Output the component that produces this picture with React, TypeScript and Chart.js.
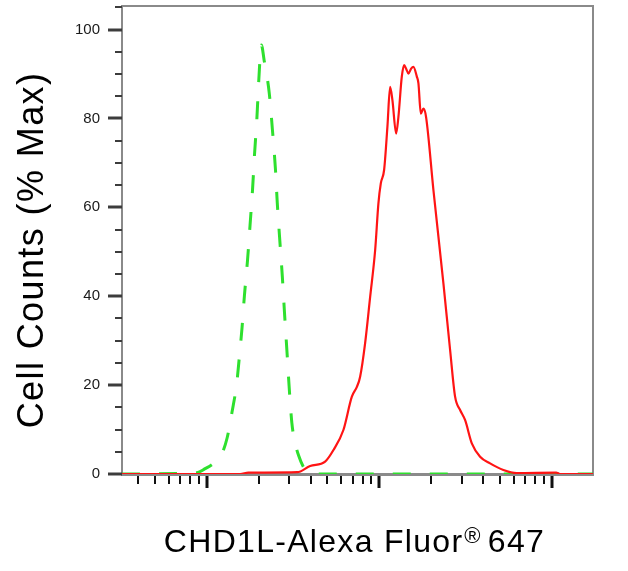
import React, { useEffect, useRef } from 'react';
import { Chart, registerables } from 'chart.js';

Chart.register(...registerables);

const FONT = '"Liberation Sans", Arial, Helvetica, sans-serif';

// Axis texts
const xTitleMain = 'CHD1L-Alexa Fluor';
const xTitleMark = '®';
const xTitleTail = '647';
const yTitle = 'Cell Counts (% Max)';

// Axis ranges and ticks
const xMin = 32.2;
const xMax = 17340;
const yMin = 0;
const yMax = 105.3;
const xMajorTicks = [100, 1000, 10000];
const xMinorTicks = [40, 50, 60, 70, 80, 90, 200, 300, 400, 500, 600, 700, 800, 900, 2000, 3000, 4000, 5000, 6000, 7000, 8000, 9000];
const yLabelTicks = [0, 20, 40, 60, 80, 100];
const yMinorTicks = [5, 10, 15, 25, 30, 35, 45, 50, 55, 65, 70, 75, 85, 90, 95, 105];

// Stained sample (red, solid)
const stainedX = [32.2, 156, 174, 334, 397, 485, 542, 619, 693, 741, 774, 827, 885, 946, 988, 1020, 1066, 1114, 1155, 1191, 1252, 1290, 1350, 1393, 1430, 1475, 1529, 1577, 1650, 1686, 1740, 1802, 1867, 2059, 2353, 2573, 2750, 2940, 3145, 3438, 3840, 4388, 5241, 6268, 10593, 11169, 17340];
const stainedY = [0, 0, 0.3, 0.4, 1.8, 2.8, 5.4, 9.9, 17.4, 19.6, 21.9, 29.4, 39.9, 50.4, 60.9, 65.4, 68.4, 78.1, 87.1, 84.1, 76.6, 80.3, 89.4, 92, 91.2, 90.1, 91.2, 91.6, 89.4, 87.9, 81.1, 82.2, 80.3, 63.9, 42.9, 27.9, 17.4, 14.4, 12.1, 6.9, 3.9, 2.4, 0.9, 0.2, 0.3, 0, 0];

// Isotype control (green, dashed)
const controlX = [32.2, 87.5, 97.7, 110, 122, 131, 140, 149, 154, 160, 165, 172, 178, 184, 189, 195, 200, 207, 215, 230, 240, 250, 256, 264, 274, 282, 291, 300, 311, 325, 340, 363, 397, 17340];
const controlY = [0, 0.3, 1.2, 2.5, 4.5, 8.1, 14, 20.4, 26, 33, 40, 48, 56, 64, 72, 80, 88.6, 96.5, 93, 85.7, 77.4, 68.4, 61, 53.3, 44.3, 36.2, 27.9, 19.6, 11.5, 7, 4.2, 1.6, 0, 0];

const toPoints = (xs: number[], ys: number[]) => xs.map((x, i) => ({ x, y: ys[i] }));

const decorPlugin = {
  id: 'decor',
  beforeDatasetsDraw(chart: any) {
    const { ctx, chartArea: a } = chart;
    ctx.save();
    ctx.strokeStyle = '#8a8a8a';
    ctx.lineWidth = 2;
    ctx.strokeRect(a.left, a.top, a.right - a.left, a.bottom - a.top);
    ctx.lineWidth = 3;
    ctx.beginPath();
    ctx.moveTo(a.left - 1, a.bottom + 0.5);
    ctx.lineTo(a.right + 1, a.bottom + 0.5);
    ctx.stroke();
    ctx.restore();
  },
  afterDraw(chart: any) {
    const { ctx, chartArea: a } = chart;
    const xs = chart.scales.x;
    const ys = chart.scales.y;
    ctx.save();
    // x ticks
    ctx.strokeStyle = '#111';
    ctx.lineWidth = 2;
    xMinorTicks.forEach((v) => {
      const px = Math.round(xs.getPixelForValue(v));
      ctx.beginPath();
      ctx.moveTo(px, a.bottom + 2);
      ctx.lineTo(px, a.bottom + 10);
      ctx.stroke();
    });
    ctx.lineWidth = 3;
    xMajorTicks.forEach((v) => {
      const px = Math.round(xs.getPixelForValue(v));
      ctx.beginPath();
      ctx.moveTo(px, a.bottom + 2);
      ctx.lineTo(px, a.bottom + 14);
      ctx.stroke();
    });
    // y ticks
    ctx.strokeStyle = '#3c3c3c';
    ctx.lineWidth = 2;
    yMinorTicks.forEach((v) => {
      const py = Math.round(ys.getPixelForValue(v));
      ctx.beginPath();
      ctx.moveTo(a.left - 7, py);
      ctx.lineTo(a.left, py);
      ctx.stroke();
    });
    ctx.lineWidth = 3;
    yLabelTicks.forEach((v) => {
      const py = Math.round(ys.getPixelForValue(v));
      ctx.beginPath();
      ctx.moveTo(a.left - 14, py);
      ctx.lineTo(a.left, py);
      ctx.stroke();
    });

    // x title
    ctx.fillStyle = '#000';
    ctx.textBaseline = 'alphabetic';
    ctx.textAlign = 'left';
    ctx.letterSpacing = '1.3px';
    ctx.font = `32px ${FONT}`;
    const w1 = ctx.measureText(xTitleMain).width;
    const w3 = ctx.measureText(xTitleTail).width;
    ctx.font = `22px ${FONT}`;
    const w2 = ctx.measureText(xTitleMark).width;
    const gap = 7;
    const total = w1 + w2 + gap + w3;
    const cx = (a.left + a.right) / 2 - 3;
    const x0 = cx - total / 2;
    const base = 552;
    ctx.font = `32px ${FONT}`;
    ctx.fillText(xTitleMain, x0, base);
    ctx.font = `22px ${FONT}`;
    ctx.fillText(xTitleMark, x0 + w1 + 1, base - 9);
    ctx.font = `32px ${FONT}`;
    ctx.fillText(xTitleTail, x0 + w1 + w2 + gap, base);

    // y title
    ctx.save();
    ctx.letterSpacing = '1.4px';
    ctx.font = `36px ${FONT}`;
    ctx.translate(43, (a.top + a.bottom) / 2 + 10);
    ctx.rotate(-Math.PI / 2);
    ctx.textAlign = 'center';
    ctx.fillText(yTitle, 0, 0);
    ctx.restore();

    ctx.restore();
  },
};

export default function App() {
  const ref = useRef<HTMLCanvasElement>(null);

  useEffect(() => {
    if (!ref.current) return;
    const chart = new Chart(ref.current, {
      type: 'line',
      data: {
        datasets: [
          {
            label: 'CHD1L',
            data: toPoints(stainedX, stainedY),
            borderColor: '#ff1414',
            borderWidth: 2.2,
            pointRadius: 0,
            fill: false,
            cubicInterpolationMode: 'monotone',
          },
          {
            label: 'Isotype',
            data: toPoints(controlX, controlY),
            borderColor: '#2ee02e',
            borderWidth: 3,
            borderDash: [18, 19],
            pointRadius: 0,
            fill: false,
            cubicInterpolationMode: 'monotone',
          },
        ],
      },
      options: {
        animation: false,
        responsive: false,
        devicePixelRatio: 1,
        layout: { padding: { top: 6, right: 35, bottom: 0, left: 0 } },
        plugins: { legend: { display: false }, tooltip: { enabled: false } },
        scales: {
          x: {
            type: 'logarithmic',
            min: xMin,
            max: xMax,
            grid: { display: false },
            border: { display: false },
            ticks: { display: false },
            afterFit: (s: any) => {
              s.height = 97;
            },
          },
          y: {
            type: 'linear',
            min: yMin,
            max: yMax,
            grid: { display: false, drawTicks: false },
            border: { display: false },
            afterBuildTicks: (s: any) => {
              s.ticks = yLabelTicks.map((v) => ({ value: v }));
            },
            ticks: {
              padding: 22,
              color: '#1a1a1a',
              font: { family: FONT, size: 15 },
              callback: (v: any) => String(v),
            },
            afterFit: (s: any) => {
              s.width = 122;
              s.paddingTop = 0;
              s.paddingBottom = 0;
            },
          },
        },
      },
      plugins: [decorPlugin],
    });
    return () => chart.destroy();
  }, []);

  return (
    <div style={{ position: 'absolute', left: 0, top: 0, width: 628, height: 571, background: '#fff' }}>
      <canvas ref={ref} width={628} height={571} />
    </div>
  );
}
